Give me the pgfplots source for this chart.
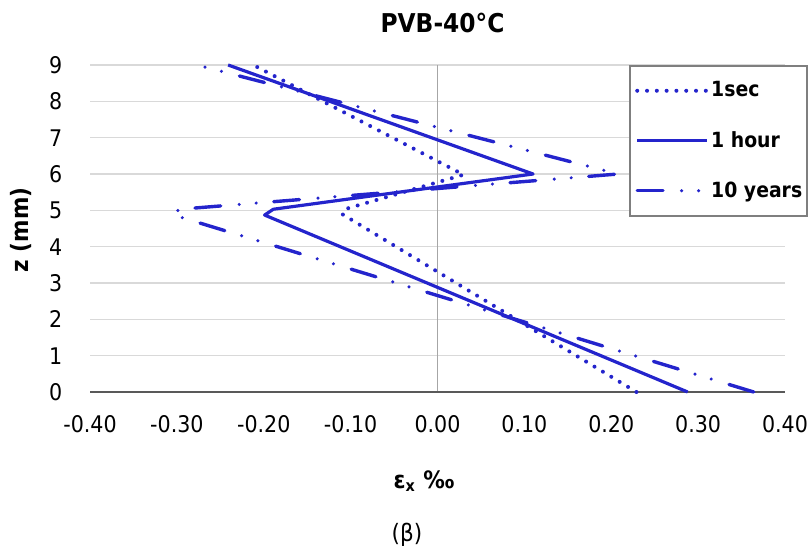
\documentclass[border=0pt]{standalone}
\usepackage{fontspec}
\setmainfont{DejaVu Sans}[FakeStretch=0.9]
\usepackage{pgfplots}
\pgfplotsset{compat=1.18}

\definecolor{serblue}{RGB}{36,36,204}
\definecolor{gridgray}{RGB}{217,217,217}
\definecolor{axisgray}{RGB}{89,89,89}
\definecolor{zerogray}{RGB}{166,166,166}
\definecolor{leggray}{RGB}{127,127,127}

\pgfplotsset{
  sdot/.style={serblue, line width=2bp, line cap=round, dash pattern=on 0bp off 4.9bp},
  ssolid/.style={serblue, line width=1.6bp, line join=round},
  sdashdot/.style={serblue, line width=1.7bp, line cap=round,
    dash pattern=on 12.9bp off 9.3bp on 0bp off 8.5bp on 0bp off 8.8bp},
}

\begin{document}
\begin{tikzpicture}
\useasboundingbox (-45bp,-77.5bp) rectangle (360.5bp,196bp);
\begin{axis}[
  at={(0,0)}, anchor=south west,
  scale only axis, width=347.5bp, height=163.5bp,
  xmin=-0.4, xmax=0.4, ymin=0, ymax=9,
  xtick={-0.4,-0.3,-0.2,-0.1,0,0.1,0.2,0.3,0.4},
  xticklabels={-0.40,-0.30,-0.20,-0.10,0.00,0.10,0.20,0.30,0.40},
  ytick={0,1,2,3,4,5,6,7,8,9},
  yticklabels={0,1,2,3,4,5,6,7,8,9},
  major tick length=0pt,
  axis line style={draw=none},
  ymajorgrids,
  major grid style={gridgray, line width=0.75bp},
  ticklabel style={font=\fontsize{11.5}{13}\selectfont},
  xticklabel style={yshift=-8.3bp},
  yticklabel style={xshift=-10.3bp},
  clip=false,
  legend style={at={(rel axis cs:1,1)}, anchor=north east, xshift=11.5bp,
    draw=leggray, line width=0.75bp, fill=white,
    inner xsep=2.5bp, inner ysep=0bp, column sep=1bp,
    font=\bfseries\fontsize{10.5}{12}\selectfont,
    nodes={inner sep=0pt, minimum height=25bp, anchor=west}},
  legend cell align=left,
  legend image code/.code={\draw[#1] (2bp,0bp) -- (37bp,0bp);},
]
\draw[zerogray, line width=0.75bp] (axis cs:0,0) -- (axis cs:0,9);
\draw[axisgray, line width=1bp] (axis cs:-0.4,0) -- (axis cs:0.4,0);

\addplot[sdot] coordinates {
  (0.229,0) (-0.110,4.90) (-0.104,5.05) (0.030,5.98) (-0.212,9.0)
};
\addlegendentry{1sec}
\addplot[ssolid] coordinates {
  (0.288,0) (-0.199,4.87) (-0.189,5.03) (0.110,6.0) (-0.241,9.0)
};
\addlegendentry{1 hour}
\addplot[sdashdot] coordinates {
  (0.364,0) (-0.305,4.88) (-0.297,5.03) (0.208,6.0) (-0.277,9.0)
};
\addlegendentry{10 years}
\end{axis}
\node[font=\bfseries\fontsize{13}{15}\selectfont] at (176.25bp,184.75bp) {PVB-40°C};
\node[rotate=90, font=\bfseries\fontsize{12}{14}\selectfont] at (-34.25bp,81bp) {z (mm)};
\node[font=\bfseries\fontsize{12}{14}\selectfont] at (167bp,-44.5bp) {ε\textsubscript{x} ‰};
\node[font=\fontsize{12}{14}\selectfont] at (158.5bp,-71.5bp) {(β)};
\end{tikzpicture}
\end{document}
